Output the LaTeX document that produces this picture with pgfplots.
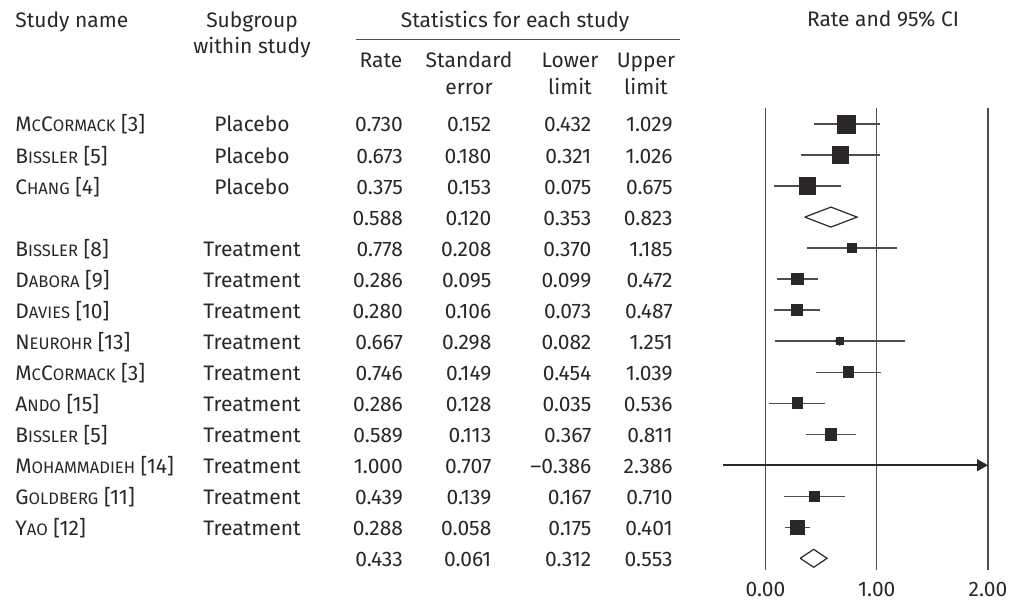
\documentclass[border=0pt]{standalone}
\usepackage{fontspec}
\setmainfont{Fira Sans}
\usepackage{pgfplots}
\pgfplotsset{compat=1.18}
\usepackage{pgfplotstable}
\usetikzlibrary{arrows.meta}
\definecolor{txt}{HTML}{2B2728}
\definecolor{ln}{HTML}{4D4D4D}
\newcommand\sm[1]{{\fontsize{8.3}{10}\selectfont #1}}
\def\fixminus#1{\expandafter\fixminusi#1\relax}
\def\fixminusi#1#2\relax{\ifx-#1\textendash#2\else#1#2\fi}
% row kind(0 study,1 summary,2 truncated) rate se lower upper box-halfsize(pt)
\pgfplotstableread{
row kind rate se lo hi hw
0 0 0.730 0.152 0.432 1.029 4.5
1 0 0.673 0.180 0.321 1.026 4.1
2 0 0.375 0.153 0.075 0.675 4.1
3 1 0.588 0.120 0.353 0.823 0
4 0 0.778 0.208 0.370 1.185 2.1
5 0 0.286 0.095 0.099 0.472 2.85
6 0 0.280 0.106 0.073 0.487 2.85
7 0 0.667 0.298 0.082 1.251 1.75
8 0 0.746 0.149 0.454 1.039 2.65
9 0 0.286 0.128 0.035 0.536 2.65
10 0 0.589 0.113 0.367 0.811 2.85
11 2 1.000 0.707 -0.386 2.386 0
12 0 0.439 0.139 0.167 0.710 2.6
13 0 0.288 0.058 0.175 0.401 3.35
14 1 0.433 0.061 0.312 0.553 0
}\stats
\newcommand\rowtext[3]{%
  \node[anchor=base west,text=txt,inner sep=0pt] at (axis cs:-6.7461,{123.8+31.02*#1+8}) {#2};
  \node[anchor=base,text=txt,inner sep=0pt] at (axis cs:-4.6157,{123.8+31.02*#1+8}) {#3};}
\begin{document}
\begin{tikzpicture}[font=\fontsize{10.5}{12.6}\selectfont]
\begin{axis}[
  scale only axis, width=511pt, height=286pt,
  xmin=-6.8809, xmax=2.3056, ymin=0, ymax=572, y dir=reverse,
  axis line style={draw=none}, ytick=\empty,
  xtick={0,1,2}, xticklabels={0.00,1.00,2.00},
  major tick length=0pt,
  xticklabel style={anchor=base, yshift=-12pt, text=txt},
  clip=false,
  numcol/.style={only marks, mark=none, point meta=explicit symbolic,
    nodes near coords={\fixminus{\pgfplotspointmeta}},
    every node near coord/.append style={anchor=base east, text=txt, inner sep=0pt}},
]
% invisible frame for picture size
\path (axis cs:-6.8809,0) rectangle (axis cs:2.3056,603);
% reference lines
\draw[ln, line width=0.7pt] (axis cs:0,108) -- (axis cs:0,570);
\draw[ln, line width=0.7pt] (axis cs:1,108) -- (axis cs:1,570);
\draw[ln, line width=0.7pt] (axis cs:2,108) -- (axis cs:2,570);
\draw[ln, line width=0.6pt] (axis cs:-3.6854,39) -- (axis cs:-0.7685,39);
% headers
\node[anchor=base west,text=txt,inner sep=0pt] at (axis cs:-6.7461,27) {Study name};
\node[anchor=base,text=txt,inner sep=0pt] at (axis cs:-4.6157,27) {Subgroup};
\node[anchor=base,text=txt,inner sep=0pt] at (axis cs:-4.6157,53) {within study};
\node[anchor=base,text=txt,inner sep=0pt] at (axis cs:-2.2517,27) {Statistics for each study};
\node[anchor=base,text=txt,inner sep=0pt] at (axis cs:-3.4562,67) {Rate};
\node[anchor=base,text=txt,inner sep=0pt] at (axis cs:-2.6652,67) {Standard};
\node[anchor=base,text=txt,inner sep=0pt] at (axis cs:-2.6652,94) {error};
\node[anchor=base,text=txt,inner sep=0pt] at (axis cs:-1.7573,67) {Lower};
\node[anchor=base,text=txt,inner sep=0pt] at (axis cs:-1.7573,94) {limit};
\node[anchor=base,text=txt,inner sep=0pt] at (axis cs:-1.0742,67) {Upper};
\node[anchor=base,text=txt,inner sep=0pt] at (axis cs:-1.0742,94) {limit};
\node[anchor=base,text=txt,inner sep=0pt] at (axis cs:1.0562,26) {Rate and 95\% CI};
% study names
\rowtext{0}{M\sm{C}C\sm{ORMACK} [3]}{Placebo}
\rowtext{1}{B\sm{ISSLER} [5]}{Placebo}
\rowtext{2}{C\sm{HANG} [4]}{Placebo}
\rowtext{4}{B\sm{ISSLER} [8]}{Treatment}
\rowtext{5}{D\sm{ABORA} [9]}{Treatment}
\rowtext{6}{D\sm{AVIES} [10]}{Treatment}
\rowtext{7}{N\sm{EUROHR} [13]}{Treatment}
\rowtext{8}{M\sm{C}C\sm{ORMACK} [3]}{Treatment}
\rowtext{9}{A\sm{NDO} [15]}{Treatment}
\rowtext{10}{B\sm{ISSLER} [5]}{Treatment}
\rowtext{11}{M\sm{OHAMMADIEH} [14]}{Treatment}
\rowtext{12}{G\sm{OLDBERG} [11]}{Treatment}
\rowtext{13}{Y\sm{AO} [12]}{Treatment}
% numeric columns
\addplot[numcol] table[x expr=-3.2557, y expr=123.8+31.02*\thisrow{row}+8, meta=rate] {\stats};
\addplot[numcol] table[x expr=-2.4611, y expr=123.8+31.02*\thisrow{row}+8, meta=se] {\stats};
\addplot[numcol] table[x expr=-1.5622, y expr=123.8+31.02*\thisrow{row}+8, meta=lo] {\stats};
\addplot[numcol] table[x expr=-0.8315, y expr=123.8+31.02*\thisrow{row}+8, meta=hi] {\stats};
% confidence intervals
\addplot[only marks, mark=none, restrict expr to domain={\thisrow{kind}}{0:0},
  error bars/.cd, x dir=both, x explicit, error mark=none,
  error bar style={ln, line width=0.65pt}]
  table[x=rate, y expr=123.8+31.02*\thisrow{row},
        x error plus expr=\thisrow{hi}-\thisrow{rate},
        x error minus expr=\thisrow{rate}-\thisrow{lo}] {\stats};
% boxes
\addplot[scatter, only marks, mark=square*, restrict expr to domain={\thisrow{kind}}{0:0},
  scatter/use mapped color={draw=txt, fill=txt},
  visualization depends on={\thisrow{hw}\as\hw},
  scatter/@pre marker code/.append style={/tikz/mark size=\hw pt}]
  table[x=rate, y expr=123.8+31.02*\thisrow{row}] {\stats};
% truncated interval (Mohammadieh)
\addplot[txt, line width=0.75pt, -{Triangle[length=5.5pt,width=6pt]}]
  coordinates {(-0.386,465.0) (2,465.0)};
% summary diamonds
\addplot[txt, line width=0.6pt, fill=white]
  coordinates {(0.353,216.9) (0.588,206.9) (0.823,216.9) (0.588,226.9) (0.353,216.9)};
\addplot[txt, line width=0.6pt, fill=white]
  coordinates {(0.312,558.1) (0.433,549.1) (0.553,558.1) (0.433,567.1) (0.312,558.1)};
\end{axis}
\end{tikzpicture}
\end{document}
